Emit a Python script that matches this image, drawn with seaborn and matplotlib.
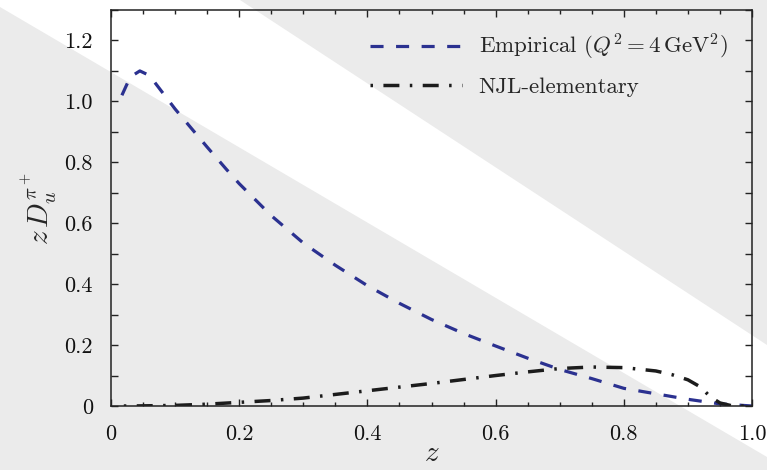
import numpy as np
import pandas as pd
import matplotlib
matplotlib.use("Agg")
import matplotlib.pyplot as plt
from matplotlib.patches import Polygon
from matplotlib.ticker import MultipleLocator, FixedLocator
import seaborn as sns

# Fragmentation function z D_u^{pi+}(z)
z_emp = [0.017, 0.03, 0.045, 0.06, 0.08, 0.10, 0.13, 0.15, 0.18, 0.20, 0.25,
         0.30, 0.35, 0.40, 0.45, 0.50, 0.55, 0.60, 0.65, 0.70, 0.75, 0.80,
         0.85, 0.90, 0.95, 1.00]
d_emp = [1.02, 1.08, 1.10, 1.085, 1.03, 0.975, 0.90, 0.85, 0.777, 0.73, 0.625,
         0.535, 0.462, 0.395, 0.337, 0.284, 0.238, 0.197, 0.157, 0.12, 0.09,
         0.058, 0.04, 0.022, 0.007, 0.0]

z_njl = [0.02, 0.05, 0.10, 0.15, 0.20, 0.25, 0.30, 0.35, 0.40, 0.45, 0.50,
         0.55, 0.60, 0.65, 0.70, 0.75, 0.80, 0.85, 0.875, 0.90, 0.92, 0.935,
         0.95, 0.97, 1.00]
d_njl = [0.0, 0.0005, 0.002, 0.006, 0.012, 0.018, 0.026, 0.038, 0.05, 0.062,
         0.074, 0.087, 0.10, 0.112, 0.123, 0.128, 0.126, 0.115, 0.103, 0.086,
         0.062, 0.03, 0.01, 0.0, 0.0]

labels = [r"Empirical ($Q^2 = 4\,\mathrm{GeV}^2$)", "NJL-elementary"]
x_ticks = [0.0, 0.2, 0.4, 0.6, 0.8, 1.0]
x_ticklabels = ["0", "0.2", "0.4", "0.6", "0.8", "1.0"]
y_ticks = [0.0, 0.2, 0.4, 0.6, 0.8, 1.0, 1.2]
y_ticklabels = ["0", "0.2", "0.4", "0.6", "0.8", "1.0", "1.2"]

sns.set_theme(style="ticks")
plt.rcParams["font.family"] = ["cmr10", "DejaVu Serif"]
plt.rcParams["mathtext.fontset"] = "cm"
plt.rcParams["axes.formatter.use_mathtext"] = True
plt.rcParams["lines.scale_dashes"] = False

W, H = 767, 470
fig = plt.figure(figsize=(W / 100, H / 100), dpi=100)
fig.patch.set_facecolor("#ebebeb")


def px(x, y):
    return (x / W, 1 - y / H)


band = Polygon([px(0, 7), px(0, 0), px(240, 0), px(767, 345), px(767, 457)],
               closed=True, transform=fig.transFigure, facecolor="white",
               edgecolor="none", zorder=-10)
fig.add_artist(band)

ax = fig.add_axes([111 / W, 1 - 406 / H, (752 - 111) / W, (406 - 10) / H])
ax.patch.set_alpha(0)

df_emp = pd.DataFrame({"z": z_emp, "D": d_emp})
df_njl = pd.DataFrame({"z": z_njl, "D": d_njl})

sns.lineplot(data=df_emp, x="z", y="D", ax=ax, color="#2b3190", lw=2.3,
             estimator=None, sort=False, label=labels[0])
sns.lineplot(data=df_njl, x="z", y="D", ax=ax, color="#1c1c1c", lw=2.5,
             estimator=None, sort=False, label=labels[1])
ax.lines[0].set_dashes([9.4, 9.0])
ax.lines[1].set_dashes([1.8, 7.5, 11.5, 7.5])

ax.set_xlim(0, 1)
ax.set_ylim(0, 1.3)
ax.xaxis.set_major_locator(FixedLocator(x_ticks))
ax.set_xticklabels(x_ticklabels)
ax.xaxis.set_minor_locator(MultipleLocator(0.05))
ax.yaxis.set_major_locator(FixedLocator(y_ticks))
ax.set_yticklabels(y_ticklabels)
ax.yaxis.set_minor_locator(MultipleLocator(0.1))

ax.tick_params(which="both", direction="in", top=True, right=True,
               colors="#222222", labelcolor="#111111", width=1.0)
ax.tick_params(which="major", length=5, labelsize=16, pad=13)
ax.tick_params(axis="x", which="minor", length=3)
ax.tick_params(axis="y", which="minor", length=5)
for s in ax.spines.values():
    s.set_linewidth(1.1)
    s.set_color("#222222")

ax.set_xlabel(r"$z$", fontsize=21, labelpad=-2)
ax.set_ylabel(r"$z\,D_u^{\pi^+}$", fontsize=21, labelpad=4)

leg = ax.legend(loc="upper right", bbox_to_anchor=(0.962, 0.945),
                frameon=False, fontsize=16.5, handlelength=4.0,
                handletextpad=0.75, labelspacing=0.65, borderpad=0,
                borderaxespad=0)

fig.savefig("out.png", dpi=100, facecolor=fig.get_facecolor())
